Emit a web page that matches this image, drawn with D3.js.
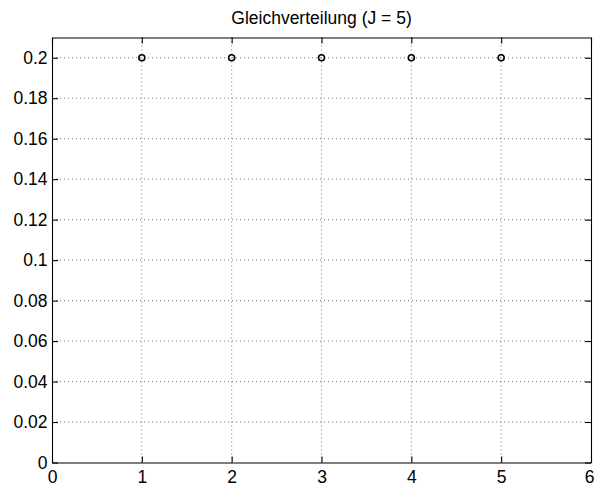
<!DOCTYPE html>
<html>
<head>
<meta charset="utf-8">
<script src="https://cdn.jsdelivr.net/npm/d3@7"></script>
<style>
  body { margin: 0; background: #fff; }
  svg text { font-family: "Liberation Sans", Arial, Helvetica, sans-serif; }
</style>
</head>
<body>
<svg id="chart" width="595" height="489"></svg>
<script>
// values
const categories = [1, 2, 3, 4, 5];
const probabilities = [0.2, 0.2, 0.2, 0.2, 0.2];
const xTicks = [0, 1, 2, 3, 4, 5, 6];
const yTicks = [0, 0.02, 0.04, 0.06, 0.08, 0.1, 0.12, 0.14, 0.16, 0.18, 0.2];
const title = "Gleichverteilung (J = 5)";

function init() {
    const svg = d3.select("#chart");
    const margin = {top: 37.5, right: 4, bottom: 26.5, left: 52};
    const width = +svg.attr("width") - margin.left - margin.right;
    const height = +svg.attr("height") - margin.top - margin.bottom;

    const x = d3.scaleLinear().domain([0, 6]).range([0, width]);
    const y = d3.scaleLinear().domain([0, 0.21]).range([height, 0]);

    const g = svg.append("g")
        .attr("transform", `translate(${margin.left},${margin.top})`);

    // dotted grid
    g.append("g")
        .selectAll("line")
        .data(xTicks.slice(1, -1))
        .join("line")
        .attr("x1", d => x(d)).attr("x2", d => x(d))
        .attr("y1", 0).attr("y2", height)
        .attr("stroke", "#777")
        .attr("stroke-width", 1)
        .attr("stroke-dasharray", "1,3");

    g.append("g")
        .selectAll("line")
        .data(yTicks.slice(1))
        .join("line")
        .attr("x1", 0).attr("x2", width)
        .attr("y1", d => y(d)).attr("y2", d => y(d))
        .attr("stroke", "#777")
        .attr("stroke-width", 1)
        .attr("stroke-dasharray", "1,3");

    // axes, ticks pointing inwards like matlab
    const styleAxis = (sel) => {
        sel.selectAll("path, line").attr("stroke", "#000").attr("stroke-width", 1.1);
        sel.selectAll("text").attr("fill", "#000").style("font-size", "17.5px");
    };

    const xAxisGroup = g.append("g")
        .attr("transform", `translate(0,${height})`)
        .call(d3.axisBottom(x).tickValues(xTicks).tickSizeInner(-6).tickSizeOuter(0).tickPadding(8)
            .tickFormat(d => String(d)))
        .call(styleAxis);

    // last label sits at the picture edge, nudge it in so it stays whole
    xAxisGroup.selectAll(".tick text")
        .filter(d => d === xTicks[xTicks.length - 1])
        .attr("dx", -2);

    g.append("g")
        .call(d3.axisTop(x).tickValues(xTicks).tickSizeInner(-6).tickSizeOuter(0).tickFormat(""))
        .call(styleAxis);

    g.append("g")
        .call(d3.axisLeft(y).tickValues(yTicks).tickSizeInner(-6).tickSizeOuter(0).tickPadding(4.5)
            .tickFormat(d => String(d)))
        .call(styleAxis);

    g.append("g")
        .attr("transform", `translate(${width},0)`)
        .call(d3.axisRight(y).tickValues(yTicks).tickSizeInner(-6).tickSizeOuter(0).tickFormat(""))
        .call(styleAxis);

    // points
    g.append("g")
        .selectAll("circle")
        .data(categories)
        .join("circle")
        .attr("cx", d => x(d))
        .attr("cy", (d, i) => y(probabilities[i]))
        .attr("r", 3)
        .attr("fill", "none")
        .attr("stroke", "#000")
        .attr("stroke-width", 1.6);

    // title
    svg.append("text")
        .attr("x", margin.left + width / 2)
        .attr("y", 24)
        .attr("text-anchor", "middle")
        .style("font-size", "17.5px")
        .attr("fill", "#000")
        .text(title);
}

window.onload = init;
</script>
</body>
</html>
